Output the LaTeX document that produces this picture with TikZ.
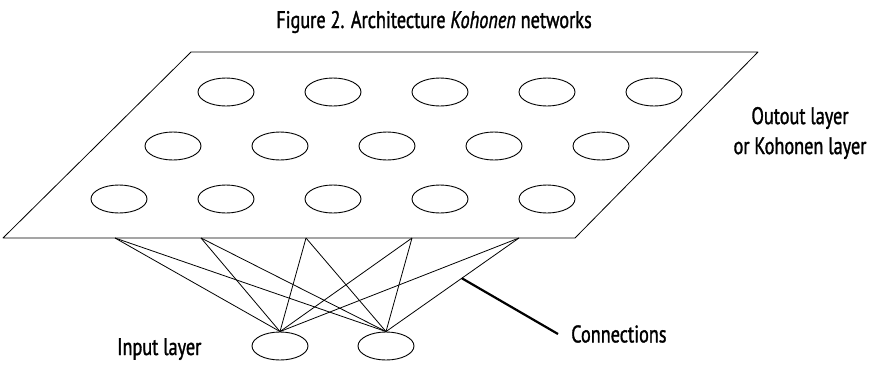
\documentclass[tikz,border=0pt]{standalone}
\usepackage{fontspec}
\setmainfont{PT Sans}[FakeStretch=0.76, FakeBold=1.3]
\usetikzlibrary{positioning, shapes.geometric, calc}
\tikzset{
  cell/.style={draw, ellipse, minimum width=56pt, minimum height=28pt, inner sep=0pt, line width=0.9pt},
  link/.style={line width=0.8pt},
  caption/.style={font=\fontsize{24}{30}\selectfont, inner sep=0pt}
}
\begin{document}
\begin{tikzpicture}[x=1pt, y=-1pt, line join=round]
    \useasboundingbox (0,0) rectangle (869,364);

    % Title
    \node[caption, anchor=base] (title) at (434,28) {Figure 2. Architecture \textit{Kohonen} networks};

    % Output layer (the plane)
    \coordinate (tl) at (191,52);
    \coordinate (tr) at (758,52);
    \coordinate (br) at (575,238);
    \coordinate (bl) at (3,238);
    \draw[link] (tl) -- (tr) -- (br) -- (bl) -- cycle;

    % Kohonen cells, three rows of five
    \foreach \r/\x/\y in {1/226/92, 2/173/146, 3/119/199}
        \foreach \c in {1,...,5}
            \node[cell] (k\r\c) at ({\x+107*(\c-1)},\y) {};

    \node[caption, align=center] (outlabel) at (800,133) {Outout layer\\or Kohonen layer};

    % Input layer
    \node[cell] (in1) at (280,346) {};
    \node[cell] (in2) at (386,346) {};
    \node[caption, anchor=base west] (inlabel) at (117,355) {Input layer};

    % Connections
    \foreach \i/\x in {1/115, 2/201, 3/306, 4/412, 5/519}
    {
        \coordinate (c\i) at (\x,238);
        \draw[link] (c\i) -- (in1.north);
        \draw[link] (c\i) -- (in2.north);
    }
    \coordinate (lead) at ($(c5)!0.43!(in2.north)$);
    \node[caption, inner xsep=13pt, anchor=west] (connlabel) at (558,334) {Connections};
    \draw[line width=2.2pt] (lead) -- (connlabel.west);
\end{tikzpicture}
\end{document}
